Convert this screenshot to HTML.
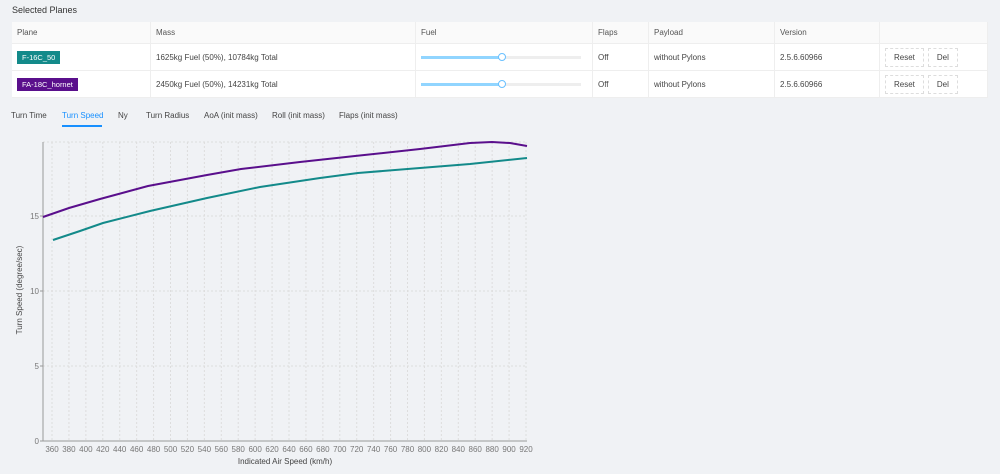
<!DOCTYPE html><html><head><style>
body{margin:0;width:1000px;height:474px;background:#f0f2f5;font-family:"Liberation Sans",sans-serif;font-size:8px;color:#444;position:relative;overflow:hidden}
.t{position:absolute;left:12px;font-size:9px;color:#333}
table{position:absolute;left:12px;top:22px;width:976px;border-collapse:collapse;background:#fff}
td{border-right:1px solid #eee;border-bottom:1px solid #eee;padding:0 5px;height:26px;font-size:8px;color:#444}
tr.h td{background:#fafafa;height:21px;color:#555}
.tag{display:inline-block;color:#fff;padding:2px 5px;font-size:7.5px}
.sl{position:relative;height:3px;background:#eee;width:160px}
.sl i{position:absolute;left:0;top:0;width:80px;height:3px;background:#91d5ff}
.sl b{position:absolute;left:77px;top:-3px;width:6px;height:6px;border:1.5px solid #69c0ff;border-radius:50%;background:#fff}
.btn{display:inline-block;border:1px dashed #ddd;padding:4px 8px;margin-right:4px;font-size:8px}
.tabs span{position:absolute;top:111px;font-size:8px;color:#444}
</style></head><body>
<div class="t" style="top:5px">Selected Planes</div>
<table>
<tr class="h"><td style="width:128px">Plane</td><td style="width:254px">Mass</td><td style="width:166px">Fuel</td><td style="width:45px">Flaps</td><td style="width:115px">Payload</td><td style="width:94px">Version</td><td></td></tr>
<tr><td><span class="tag" style="background:#138a8a">F-16C_50</span></td><td>1625kg Fuel (50%), 10784kg Total</td><td><div class="sl"><i></i><b></b></div></td><td>Off</td><td>without Pylons</td><td>2.5.6.60966</td><td><span class="btn">Reset</span><span class="btn">Del</span></td></tr>
<tr><td><span class="tag" style="background:#5a0f8c">FA-18C_hornet</span></td><td>2450kg Fuel (50%), 14231kg Total</td><td><div class="sl"><i></i><b></b></div></td><td>Off</td><td>without Pylons</td><td>2.5.6.60966</td><td><span class="btn">Reset</span><span class="btn">Del</span></td></tr>
</table>
<div class="tabs"><span style="left:11px">Turn Time</span><span style="left:62px;color:#1890ff">Turn Speed</span><span style="left:118px">Ny</span><span style="left:146px">Turn Radius</span><span style="left:204px">AoA (init mass)</span><span style="left:272px">Roll (init mass)</span><span style="left:339px">Flaps (init mass)</span></div>
<div style="position:absolute;left:62px;top:125px;width:40px;height:2px;background:#1890ff"></div>
<svg width="1000" height="474" style="position:absolute;left:0;top:0" font-family="Liberation Sans" font-size="8" fill="#777">
<g stroke="#ddd" stroke-dasharray="2,2">
<line x1="43" y1="142" x2="527" y2="142"/><line x1="43" y1="216" x2="527" y2="216"/><line x1="43" y1="291" x2="527" y2="291"/><line x1="43" y1="366" x2="527" y2="366"/>
<g id="v"></g>
</g>
<g stroke="#ddd" stroke-dasharray="2,2">
<script>/*none*/</script>
</g>
<g id="grid" stroke="#ddd" stroke-dasharray="2,2"></g>
<line x1="43" y1="142" x2="43" y2="441" stroke="#999"/>
<line x1="43" y1="441" x2="527" y2="441" stroke="#999"/>
<g text-anchor="end"><text x="39" y="444">0</text><text x="39" y="369">5</text><text x="39" y="294">10</text><text x="39" y="219">15</text></g>
<g stroke="#999"><line x1="40" y1="441" x2="43" y2="441"/><line x1="40" y1="366" x2="43" y2="366"/><line x1="40" y1="291" x2="43" y2="291"/><line x1="40" y1="216" x2="43" y2="216"/></g>
<g id="xl" text-anchor="middle"></g>
<text x="285" y="464" text-anchor="middle" fill="#444">Indicated Air Speed (km/h)</text>
<text transform="translate(22,290) rotate(-90)" text-anchor="middle" fill="#444">Turn Speed (degree/sec)</text>
<polyline fill="none" stroke="#5a0f8c" stroke-width="2" points="43,217 69,208 100,199 148,186 207,175 241,169 300,162 355,156 420,149 470,143 492,142 510,143 527,146"/>
<polyline fill="none" stroke="#138a8a" stroke-width="2" points="53,240 80,231 103,223 150,211 207,198 260,187 320,178 358,173 420,168 470,164 527,158"/>
</svg>
<script>
var g=document.getElementById('grid'),xl=document.getElementById('xl'),ns='http://www.w3.org/2000/svg';
for(var i=0;i<=28;i++){var x=52+i*(474/28);var l=document.createElementNS(ns,'line');l.setAttribute('x1',x);l.setAttribute('x2',x);l.setAttribute('y1',142);l.setAttribute('y2',441);g.appendChild(l);
var t=document.createElementNS(ns,'text');t.setAttribute('x',x);t.setAttribute('y',452);t.textContent=360+i*20;xl.appendChild(t);}
</script>
</body></html>
